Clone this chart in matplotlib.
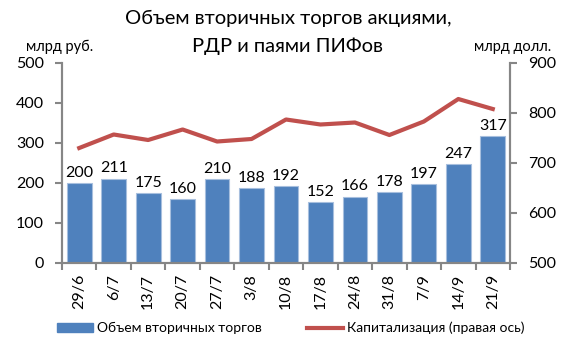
import matplotlib
matplotlib.use("Agg")
import matplotlib.pyplot as plt
from matplotlib.lines import Line2D
from matplotlib.patches import Patch

plt.rcParams['font.family'] = ['Lato', 'Open Sans', 'DejaVu Sans']

categories = ["29/6", "6/7", "13/7", "20/7", "27/7", "3/8", "10/8", "17/8", "24/8", "31/8", "7/9", "14/9", "21/9"]
volume = [200, 211, 175, 160, 210, 188, 192, 152, 166, 178, 197, 247, 317]
capitalization = [730, 757, 746, 767, 743, 748, 787, 777, 781, 756, 783, 828, 808]

bar_color = "#4F81BD"
bar_edge = "#A7BFDE"
line_color = "#C0504D"
spine_color = "#868686"

fig = plt.figure(figsize=(5.76, 3.52), dpi=100)
ax = fig.add_axes([62/576, 1-263/352, 448/576, 200/352])
ax2 = ax.twinx()

x = list(range(len(categories)))
ax.bar(x, volume, width=0.72, color=bar_color, edgecolor=bar_edge, linewidth=0.8, zorder=2)
for xi, v in zip(x, volume):
    ax.text(xi, v + 8, str(v), ha='center', va='bottom', fontsize=11.5, color='black')

ax2.plot(x, capitalization, color=line_color, linewidth=3, solid_joinstyle='round', zorder=3)

ax.set_xlim(-0.5, len(categories) - 0.5)
ax.set_ylim(0, 500)
ax.set_yticks([0, 100, 200, 300, 400, 500])
ax2.set_ylim(500, 900)
ax2.set_yticks([500, 600, 700, 800, 900])

ax.set_xticks([i - 0.5 for i in range(len(categories) + 1)], minor=False)
ax.set_xticklabels([])
ax.set_xticks(x, minor=True)
ax.set_xticklabels(categories, minor=True, rotation=90, fontsize=11.5)
ax.tick_params(axis='x', which='minor', length=0, pad=8)
ax.tick_params(axis='x', which='major', length=5, direction='out', color=spine_color, width=1.5)

for a in (ax, ax2):
    for s in a.spines.values():
        s.set_color(spine_color)
        s.set_linewidth(1.5)
ax.spines['top'].set_visible(False)
ax2.spines['top'].set_visible(False)
ax.tick_params(axis='y', length=5, direction='out', color=spine_color, width=1.5, labelsize=11.5, pad=8)
ax2.tick_params(axis='y', length=5, direction='out', color=spine_color, width=1.5, labelsize=11.5, pad=8)

ax.set_zorder(ax2.get_zorder() - 1)
ax2.patch.set_visible(False)

fig.text(0.5, 1-18/352, "Объем вторичных торгов акциями,", ha='center', va='center', fontsize=14.5)
fig.text(0.5, 1-46/352, "РДР и паями ПИФов", ha='center', va='center', fontsize=14.5)
fig.text(26/576, 1-47/352, "млрд руб.", ha='left', va='center', fontsize=10.5)
fig.text(551/576, 1-47/352, "млрд долл.", ha='right', va='center', fontsize=10.5)

handles = [Patch(facecolor=bar_color, edgecolor=bar_color), Line2D([0], [0], color=line_color, linewidth=3)]
labels = ["Объем вторичных торгов", "Капитализация (правая ось)"]
fig.legend(handles, labels, loc='center', bbox_to_anchor=(0.505, 1-328/352), ncol=2, frameon=False,
           fontsize=10, handlelength=2.6, handleheight=0.6, columnspacing=3.2, handletextpad=0.3)

fig.savefig("out.png", dpi=100)
